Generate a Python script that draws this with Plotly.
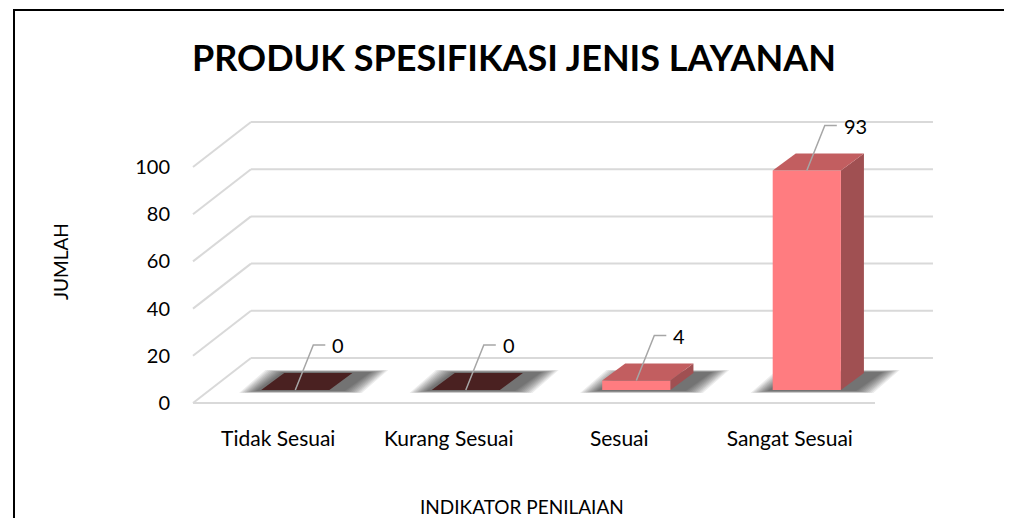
import plotly.graph_objects as go

# ---- data ----
categories = ["Tidak Sesuai", "Kurang Sesuai", "Sesuai", "Sangat Sesuai"]
values = [0, 0, 4, 93]
y_ticks = [0, 20, 40, 60, 80, 100]
title_text = "PRODUK SPESIFIKASI JENIS LAYANAN"
x_title = "INDIKATOR PENILAIAN"
y_title = "JUMLAH"

# ---- style / geometry ----
FONT = "Lato, 'Noto Sans', sans-serif"
front_colors = ["#4A2121", "#4A2121", "#FF7C80", "#FF7C80"]
top_colors = ["#4A2121", "#4A2121", "#C25E60", "#C25E60"]
side_colors = ["#3A1A1A", "#3A1A1A", "#A05052", "#A05052"]
grid_color = "#D9D9D9"

OFF = 8  # page body margin of the browser
SX, SY = 170.5, 2.36            # px per category unit / px per value unit
BACK_DU, BACK_DV = 0.34, 19.07  # back wall offset
BAR_DU, BAR_DV = 0.10, 5.5      # bar front plane offset
DEP_DU, DEP_DV = 0.135, 7.2     # bar depth
BAR_W = 0.40

W, H = 1012 - OFF, 518 - OFF
L, R, T, B = 183 - OFF, 950 - OFF, 100 - OFF, 422 - OFF
X0, Y0 = 193 - OFF, 403 - OFF
u_min, u_max = (L - X0) / SX, (R - X0) / SX
v_min, v_max = (Y0 - B) / SY, (Y0 - T) / SY


def px_x(px):  # reference pixel -> paper x
    return (px - OFF - L) / (R - L)


def px_y(py):  # reference pixel -> paper y
    return (B - (py - OFF)) / (B - T)


fig = go.Figure()


def poly(us, vs, color, opacity=1.0):
    fig.add_trace(go.Scatter(
        x=us + [us[0]], y=vs + [vs[0]], mode="lines", fill="toself",
        fillcolor=color, opacity=opacity, line=dict(width=0, color=color),
        hoverinfo="skip", showlegend=False))


def seg(us, vs, color, width):
    fig.add_trace(go.Scatter(x=us, y=vs, mode="lines",
                             line=dict(color=color, width=width),
                             hoverinfo="skip", showlegend=False))


n = len(categories)
for t in y_ticks:
    seg([BACK_DU, n + BACK_DU], [t + BACK_DV, t + BACK_DV], grid_color, 2)
    seg([0, BACK_DU], [t, t + BACK_DV], grid_color, 2)
seg([0, n], [0, 0], grid_color, 2)

# soft shadows (many faint layers to imitate a blur)
layers = 10
for i, v in enumerate(values):
    uL = i + 0.5 - BAR_W / 2 + BAR_DU
    vb = BAR_DV
    for k in range(layers):
        f = 1 - k / layers
        ex = 0.02 + 0.11 * f
        ey = 0.3 + 1.0 * f
        a = uL - ex
        b = uL + BAR_W + ex + 0.06
        poly([a, b, b + DEP_DU + 0.02, a + DEP_DU + 0.02],
             [vb - ey, vb - ey, vb + DEP_DV + ey, vb + DEP_DV + ey],
             "#000000", opacity=0.075)

# bars (pseudo 3D)
for i, v in enumerate(values):
    uL = i + 0.5 - BAR_W / 2 + BAR_DU
    vb = BAR_DV
    uR = uL + BAR_W
    vt = vb + v
    if v > 0:
        poly([uR, uR + DEP_DU, uR + DEP_DU, uR],
             [vb, vb + DEP_DV, vt + DEP_DV, vt], side_colors[i])
        poly([uL, uR, uR, uL], [vb, vb, vt, vt], front_colors[i])
    poly([uL, uR, uR + DEP_DU, uL + DEP_DU],
         [vt, vt, vt + DEP_DV, vt + DEP_DV], top_colors[i])

# data labels with leader lines
LEAD_DU, LEAD_DV, HOR_DU = 18 / SX, 45 / SY, 12 / SX
for i, v in enumerate(values):
    uc = i + 0.5 + BAR_DU
    vt = BAR_DV + v
    seg([uc, uc + LEAD_DU, uc + LEAD_DU + HOR_DU],
        [vt, vt + LEAD_DV, vt + LEAD_DV], "#A6A6A6", 1.5)
    fig.add_annotation(x=uc + LEAD_DU + HOR_DU + 5 / SX, y=vt + LEAD_DV,
                       text=str(v), showarrow=False, xanchor="left",
                       yanchor="middle",
                       font=dict(family=FONT, size=20, color="#000000"))

# titles
fig.add_annotation(x=px_x(514), y=px_y(57), xref="paper", yref="paper",
                   text="<b>" + title_text + "</b>", showarrow=False,
                   xanchor="center", yanchor="middle",
                   font=dict(family=FONT, size=36, color="#000000"))
fig.add_annotation(x=px_x(522), y=px_y(506), xref="paper", yref="paper",
                   text=x_title, showarrow=False, xanchor="center",
                   yanchor="middle",
                   font=dict(family=FONT, size=19, color="#000000"))
fig.add_annotation(x=px_x(61), y=px_y(262), xref="paper", yref="paper",
                   text=y_title, showarrow=False, textangle=-90,
                   xanchor="center", yanchor="middle",
                   font=dict(family=FONT, size=19, color="#000000"))

# outer border (left and top edges)
fig.add_shape(type="line", xref="paper", yref="paper",
              x0=px_x(14), x1=px_x(14), y0=px_y(10), y1=px_y(530),
              line=dict(color="#000000", width=2))
fig.add_shape(type="line", xref="paper", yref="paper",
              x0=px_x(13), x1=px_x(1012), y0=px_y(10), y1=px_y(10),
              line=dict(color="#000000", width=2))

fig.update_layout(
    width=W, height=H,
    margin=dict(l=L, r=W - R, t=T, b=H - B, autoexpand=False),
    paper_bgcolor="white", plot_bgcolor="white",
    xaxis=dict(range=[u_min, u_max], showgrid=False, zeroline=False,
               showline=False, tickmode="array",
               tickvals=[i + 0.5 for i in range(n)], ticktext=categories,
               ticks="", ticklabelstandoff=2,
               tickfont=dict(family=FONT, size=21, color="#000000")),
    yaxis=dict(range=[v_min, v_max], showgrid=False, zeroline=False,
               showline=False, tickmode="array", tickvals=y_ticks,
               ticktext=[str(t) for t in y_ticks], ticks="",
               ticklabelstandoff=12,
               tickfont=dict(family=FONT, size=20, color="#000000")),
)
fig.write_html("out.html", config={"displayModeBar": False})
